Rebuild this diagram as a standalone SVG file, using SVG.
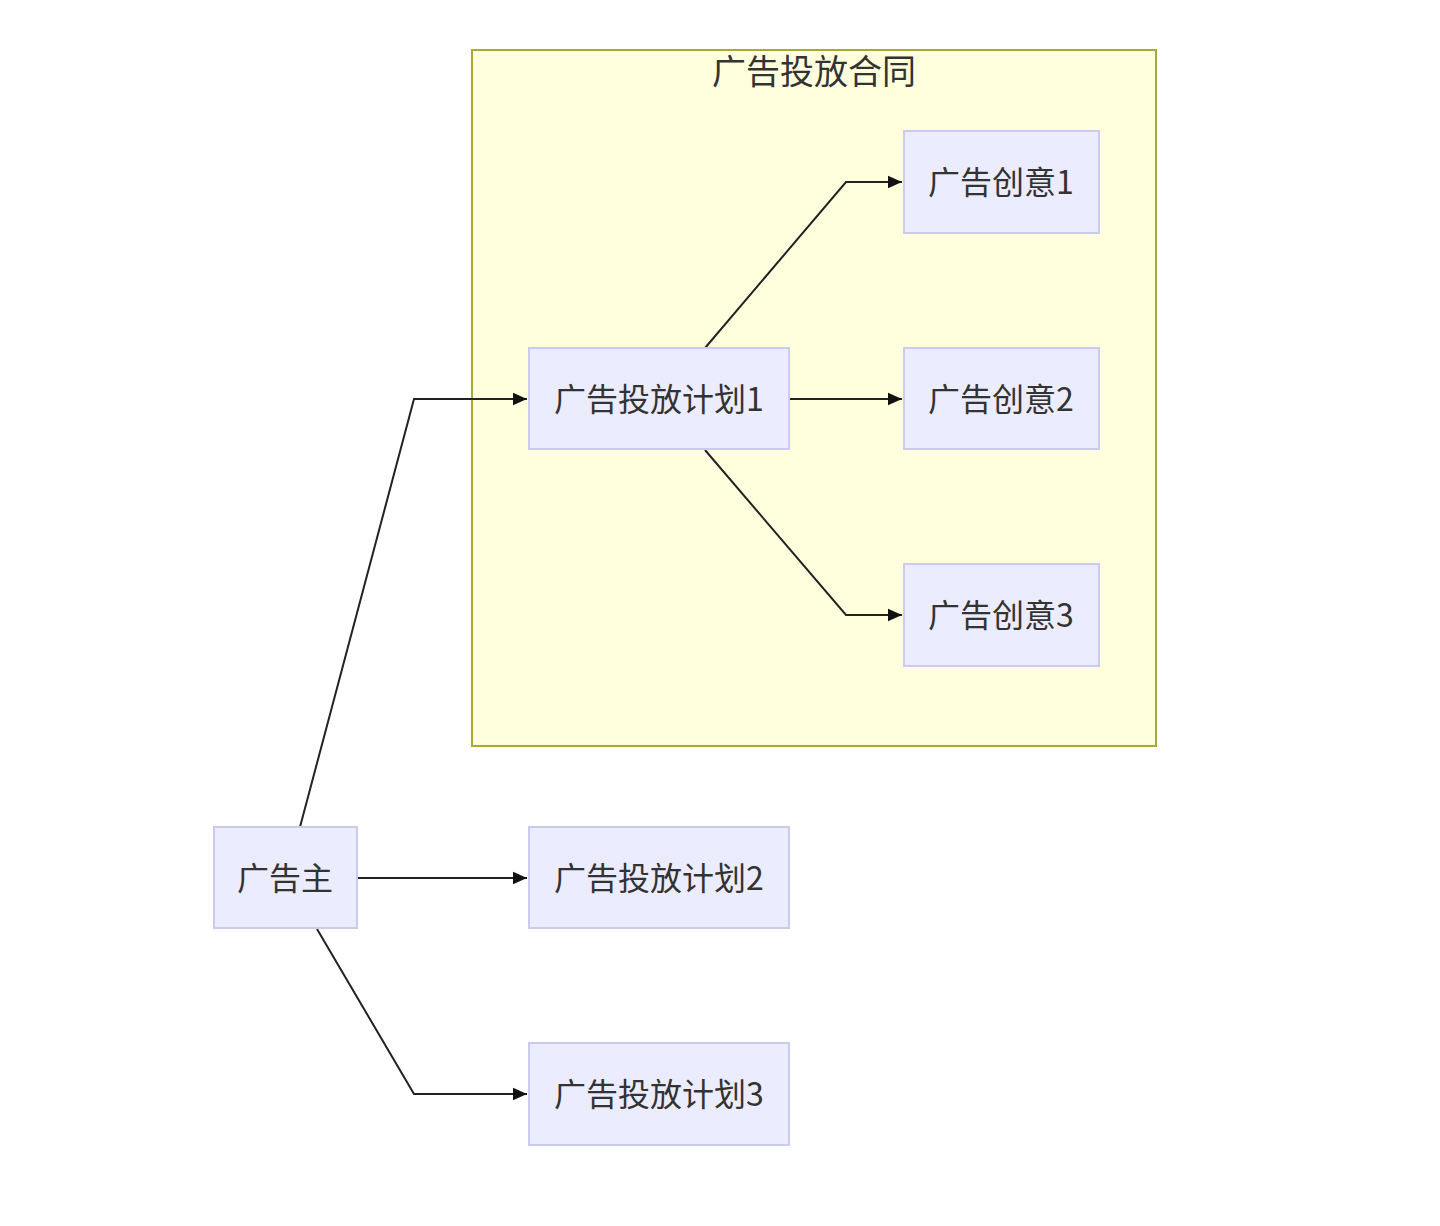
<svg xmlns="http://www.w3.org/2000/svg" width="1440" height="1226" viewBox="0 0 1440 1226">
<style>
.node rect{fill:#ececff;stroke:#cbcbf2;stroke-width:2}
.lbl{font-family:"Noto Sans CJK SC","Liberation Sans",sans-serif;font-size:32px;fill:#333;text-anchor:middle;dominant-baseline:central}
.title{font-size:34px}
.edge{fill:none;stroke:#222;stroke-width:2}
</style>
<defs>
<marker id="arr" viewBox="0 0 10 10" refX="10" refY="5" markerWidth="14" markerHeight="14" markerUnits="userSpaceOnUse" orient="auto">
<path d="M0,0.5 L10,5 L0,9.5 z" fill="#111"/>
</marker>
</defs>
<rect width="1440" height="1226" fill="#fff"/>
<g id="cluster">
<rect x="472" y="50" width="684" height="696" fill="#ffffde" stroke="#aaaa33" stroke-width="2"/>
<text class="lbl title" x="814" y="69">广告投放合同</text>
</g>
<g id="edges">
<path class="edge" d="M300,827 L414,399 L527,399" marker-end="url(#arr)"/>
<path class="edge" d="M357,878 L527,878" marker-end="url(#arr)"/>
<path class="edge" d="M317,929 L414,1094 L527,1094" marker-end="url(#arr)"/>
<path class="edge" d="M705,348 L846,182 L902,182" marker-end="url(#arr)"/>
<path class="edge" d="M789,399 L902,399" marker-end="url(#arr)"/>
<path class="edge" d="M705,450 L846,615 L902,615" marker-end="url(#arr)"/>
</g>
<g id="plan1" class="node"><rect x="529" y="348" width="260" height="101"/><text class="lbl" x="659" y="397">广告投放计划1</text></g>
<g id="idea1" class="node"><rect x="904" y="131" width="195" height="102"/><text class="lbl" x="1001" y="180">广告创意1</text></g>
<g id="idea2" class="node"><rect x="904" y="348" width="195" height="101"/><text class="lbl" x="1001" y="397">广告创意2</text></g>
<g id="idea3" class="node"><rect x="904" y="564" width="195" height="102"/><text class="lbl" x="1001" y="613">广告创意3</text></g>
<g id="advertiser" class="node"><rect x="214" y="827" width="143" height="101"/><text class="lbl" x="285" y="876">广告主</text></g>
<g id="plan2" class="node"><rect x="529" y="827" width="260" height="101"/><text class="lbl" x="659" y="876">广告投放计划2</text></g>
<g id="plan3" class="node"><rect x="529" y="1043" width="260" height="102"/><text class="lbl" x="659" y="1092">广告投放计划3</text></g>
</svg>
